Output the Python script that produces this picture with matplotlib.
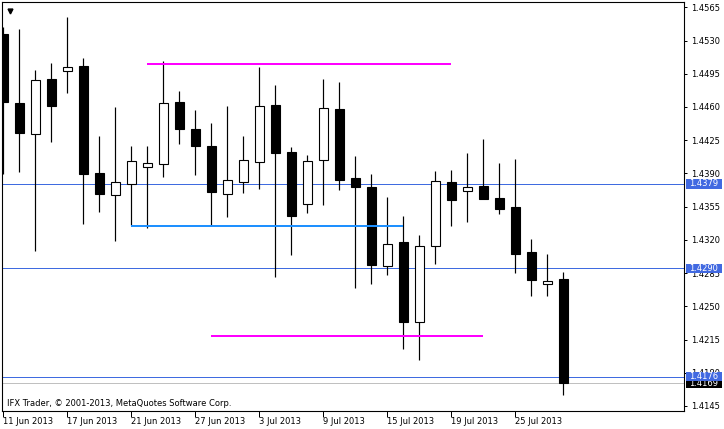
import matplotlib.pyplot as plt
from matplotlib.patches import Rectangle

# daily candles
dates = ['11 Jun 2013', '12 Jun 2013', '13 Jun 2013', '14 Jun 2013', '17 Jun 2013',
         '18 Jun 2013', '19 Jun 2013', '20 Jun 2013', '21 Jun 2013', '24 Jun 2013',
         '25 Jun 2013', '26 Jun 2013', '27 Jun 2013', '28 Jun 2013', '1 Jul 2013',
         '2 Jul 2013', '3 Jul 2013', '4 Jul 2013', '5 Jul 2013', '8 Jul 2013',
         '9 Jul 2013', '10 Jul 2013', '11 Jul 2013', '12 Jul 2013', '15 Jul 2013',
         '16 Jul 2013', '17 Jul 2013', '18 Jul 2013', '19 Jul 2013', '22 Jul 2013',
         '23 Jul 2013', '24 Jul 2013', '25 Jul 2013', '26 Jul 2013', '29 Jul 2013',
         '30 Jul 2013']

opens = [1.4537, 1.4464, 1.4432, 1.4489, 1.4498, 1.4503, 1.4390, 1.4367, 1.4379, 1.4397,
         1.4400, 1.4465, 1.4437, 1.4419, 1.4368, 1.4381, 1.4402, 1.4462, 1.4413, 1.4358,
         1.4404, 1.4458, 1.4385, 1.4376, 1.4292, 1.4318, 1.4233, 1.4314, 1.4381, 1.4371,
         1.4377, 1.4364, 1.4355, 1.4307, 1.4273, 1.4279]
highs = [1.4544, 1.4542, 1.4499, 1.4506, 1.4555, 1.4512, 1.4429, 1.4460, 1.4419, 1.4419,
         1.4508, 1.4477, 1.4457, 1.4443, 1.4461, 1.4429, 1.4502, 1.4483, 1.4418, 1.4409,
         1.4489, 1.4486, 1.4408, 1.4389, 1.4365, 1.4345, 1.4325, 1.4393, 1.4394, 1.4412,
         1.4426, 1.4401, 1.4405, 1.4321, 1.4305, 1.4286]
lows = [1.4389, 1.4391, 1.4308, 1.4423, 1.4475, 1.4337, 1.4349, 1.4319, 1.4336, 1.4333,
        1.4386, 1.4421, 1.4388, 1.4336, 1.4344, 1.4369, 1.4374, 1.4281, 1.4304, 1.4348,
        1.4357, 1.4373, 1.4269, 1.4273, 1.4283, 1.4205, 1.4193, 1.4295, 1.4335, 1.4339,
        1.4363, 1.4347, 1.4285, 1.4261, 1.4261, 1.4157]
closes = [1.4465, 1.4433, 1.4488, 1.4461, 1.4502, 1.4389, 1.4368, 1.4381, 1.4403, 1.4401,
          1.4464, 1.4437, 1.4419, 1.4370, 1.4383, 1.4404, 1.4461, 1.4411, 1.4345, 1.4403,
          1.4459, 1.4383, 1.4376, 1.4294, 1.4316, 1.4233, 1.4314, 1.4382, 1.4362, 1.4376,
          1.4363, 1.4353, 1.4305, 1.4278, 1.4277, 1.4169]

# horizontal levels (full width) and the bid line
levels = [1.4379, 1.4290, 1.4176]
bid = 1.4169

# drawn trend lines: start date, end date, price
magenta_lines = [('24 Jun 2013', '19 Jul 2013', 1.4505),
                 ('28 Jun 2013', '23 Jul 2013', 1.4219)]
blue_line = ('21 Jun 2013', '16 Jul 2013', 1.4335)

price_ticks = [1.4565, 1.4530, 1.4495, 1.4460, 1.4425, 1.4390, 1.4355,
               1.4320, 1.4285, 1.4250, 1.4215, 1.4180, 1.4145]
date_ticks = ['11 Jun 2013', '17 Jun 2013', '21 Jun 2013', '27 Jun 2013', '3 Jul 2013',
              '9 Jul 2013', '15 Jul 2013', '19 Jul 2013', '25 Jul 2013']

PX = 0.72  # one pixel in points at dpi 100
W, H = 724, 429


def draw_candles(ax):
    '''draws wicks then bodies, white = up day, black = down day'''
    for i in range(len(dates)):
        o, h, l, c = opens[i], highs[i], lows[i], closes[i]
        ax.vlines(i, l, h, color='black', linewidth=PX * 1.2, zorder=2)
        fc = 'white' if c >= o else 'black'
        bottom = min(o, c)
        height = max(abs(c - o), 0.00002)
        ax.add_patch(Rectangle((i - 0.3, bottom), 0.6, height, facecolor=fc,
                               edgecolor='black', linewidth=PX * 1.1, zorder=3))


def price_box(ax, price, fc, z):
    '''MT4 style price label on the right axis'''
    tr = ax.get_yaxis_transform()
    ax.add_patch(Rectangle((1.0025, price - 0.00049), 36 / 681.7, 0.00099, transform=tr,
                           facecolor=fc, edgecolor='none', clip_on=False, zorder=z))
    ax.text(1.0025 + 18 / 681.7, price, '%.4f' % price, transform=tr, color='white',
            fontsize=6, ha='center', va='center', clip_on=False, zorder=z + 0.5)


fig = plt.figure(figsize=(W / 100, H / 100), dpi=100)
ax = fig.add_axes([2.3 / W, 18 / H, 681.7 / W, 408.7 / H])

x = {d: i for i, d in enumerate(dates)}

for p in levels:
    ax.axhline(p, color='#3F6BE0', linewidth=PX, zorder=1)
ax.axhline(bid, color='#C0C0C0', linewidth=PX, zorder=1)

for start, end, p in magenta_lines:
    ax.hlines(p, x[start], x[end], color='#FF00FF', linewidth=PX * 2, zorder=4)
ax.hlines(blue_line[2], x[blue_line[0]], x[blue_line[1]], color='#1E90FF',
          linewidth=PX * 2, zorder=4)

draw_candles(ax)

ax.set_xlim(-0.0625, 42.54)
ax.set_ylim(1.41397, 1.45703)

for s in ax.spines.values():
    s.set_linewidth(PX * 1.1)
    s.set_color('black')

ax.yaxis.tick_right()
ax.set_yticks(price_ticks)
ax.set_yticklabels(['%.4f' % p for p in price_ticks])
ax.tick_params(axis='y', direction='out', length=2.5, width=PX, pad=2.5, labelsize=6)

ax.set_xticks([x[d] for d in date_ticks])
ax.set_xticklabels(date_ticks)
ax.tick_params(axis='x', direction='out', length=4, width=PX, pad=0.3, labelsize=6)
for lbl in ax.get_xticklabels():
    lbl.set_ha('left')

price_box(ax, bid, 'black', 6)
for p in levels:
    price_box(ax, p, '#4169E1', 7)

ax.text(4.7 / 681.7, 8 / 408.7, 'IFX Trader, \u00a9 2001-2013, MetaQuotes Software Corp.',
        transform=ax.transAxes, fontsize=6, ha='left', va='center')
ax.plot([7.2 / 681.7], [1 - 8.5 / 408.7], marker='v', ms=3.5, color='black',
        transform=ax.transAxes, clip_on=False)

fig.savefig('out.png', dpi=100)
